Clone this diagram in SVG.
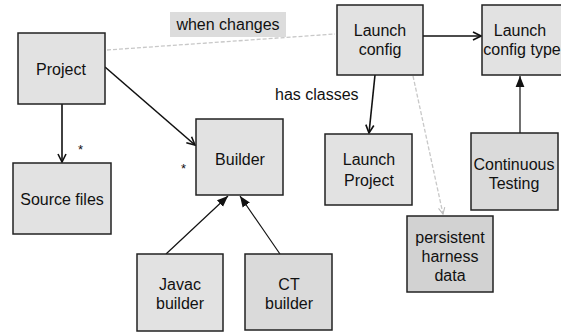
<svg xmlns="http://www.w3.org/2000/svg" width="561" height="333" viewBox="0 0 561 333">
<style>
.box{fill:#e2e2e2;stroke:#222;stroke-width:1.5}
.dark{fill:#d2d2d2}
.mid{fill:#dadada}
text{font-family:"Liberation Sans",Arial,sans-serif;font-size:16px;fill:#111}
.c{text-anchor:middle}
.ln{stroke:#111;stroke-width:1.6;fill:none}
.thin{stroke:#111;stroke-width:1.2;fill:none}
.faint{stroke:#c8c8c8;stroke-width:1.3;fill:none;stroke-dasharray:4 2}
</style>
<defs>
<marker id="open" viewBox="0 0 10 10" refX="9" refY="5" markerWidth="10" markerHeight="10" markerUnits="userSpaceOnUse" orient="auto">
<path d="M1,1 L9,5 L1,9" fill="none" stroke="#111" stroke-width="1.6"/>
</marker>
<marker id="filled" viewBox="0 0 10 10" refX="10" refY="5" markerWidth="11" markerHeight="11" markerUnits="userSpaceOnUse" orient="auto">
<path d="M0,1 L10,5 L0,9 z" fill="#111"/>
</marker>
<marker id="faintopen" viewBox="0 0 10 10" refX="9" refY="5" markerWidth="8" markerHeight="8" markerUnits="userSpaceOnUse" orient="auto">
<path d="M1,1 L9,5 L1,9" fill="none" stroke="#bbb" stroke-width="1.3"/>
</marker>
</defs>

<g id="label-when-changes">
<rect x="170" y="12" width="116" height="25" fill="#dcdcdc"/>
<text x="228" y="30" class="c">when changes</text>
</g>
<g id="label-has-classes">
<text x="275" y="100">has classes</text>
</g>

<g id="connectors">
<line class="faint" x1="107" y1="50" x2="335" y2="34"/>
<line class="ln" x1="62" y1="104" x2="62" y2="162" marker-end="url(#open)"/>
<line class="ln" x1="105" y1="67" x2="195" y2="145" marker-end="url(#open)"/>
<line class="ln" x1="423" y1="36" x2="481" y2="36" marker-end="url(#open)"/>
<line class="ln" x1="375" y1="75" x2="369" y2="133" marker-end="url(#open)"/>
<line class="thin" x1="520" y1="133" x2="520" y2="76" marker-end="url(#filled)"/>
<line class="thin" x1="166" y1="254" x2="228" y2="196" marker-end="url(#filled)"/>
<line class="thin" x1="280" y1="254" x2="240" y2="196" marker-end="url(#filled)"/>
<line class="faint" x1="413" y1="76" x2="443" y2="214" stroke-dasharray="2 2" marker-end="url(#faintopen)"/>
<text x="78" y="154" style="font-size:13px">*</text>
<text x="181" y="173" style="font-size:13px">*</text>
</g>

<g id="project">
<rect class="box" x="18" y="33" width="87" height="71"/>
<text x="61" y="75" class="c">Project</text>
</g>
<g id="source-files">
<rect class="box" x="13" y="163" width="98" height="71"/>
<text x="62" y="205" class="c">Source files</text>
</g>
<g id="builder">
<rect class="box" x="196" y="119" width="87" height="76"/>
<text x="240" y="165" class="c">Builder</text>
</g>
<g id="javac-builder">
<rect class="box" x="137" y="254" width="86" height="77"/>
<text x="180" y="290" class="c">Javac</text>
<text x="180" y="309" class="c">builder</text>
</g>
<g id="ct-builder">
<rect class="box mid" x="245" y="254" width="87" height="76"/>
<text x="289" y="290" class="c">CT</text>
<text x="289" y="309" class="c">builder</text>
</g>
<g id="launch-config">
<rect class="box" x="337" y="5" width="86" height="70"/>
<text x="380" y="36" class="c">Launch</text>
<text x="380" y="55" class="c">config</text>
</g>
<g id="launch-config-type">
<rect class="box" x="482" y="5" width="90" height="70"/>
<text x="520" y="36" class="c">Launch</text>
<text x="522" y="55" class="c">config type</text>
</g>
<g id="launch-project">
<rect class="box" x="325" y="134" width="87" height="71"/>
<text x="369" y="165" class="c">Launch</text>
<text x="369" y="186" class="c">Project</text>
</g>
<g id="continuous-testing">
<rect class="box mid" x="471" y="133" width="87" height="77"/>
<text x="514" y="170" class="c">Continuous</text>
<text x="514" y="189" class="c">Testing</text>
</g>
<g id="persistent-harness-data">
<rect class="box dark" x="407" y="216" width="86" height="76"/>
<text x="450" y="243" class="c">persistent</text>
<text x="450" y="262" class="c">harness</text>
<text x="450" y="281" class="c">data</text>
</g>
</svg>
